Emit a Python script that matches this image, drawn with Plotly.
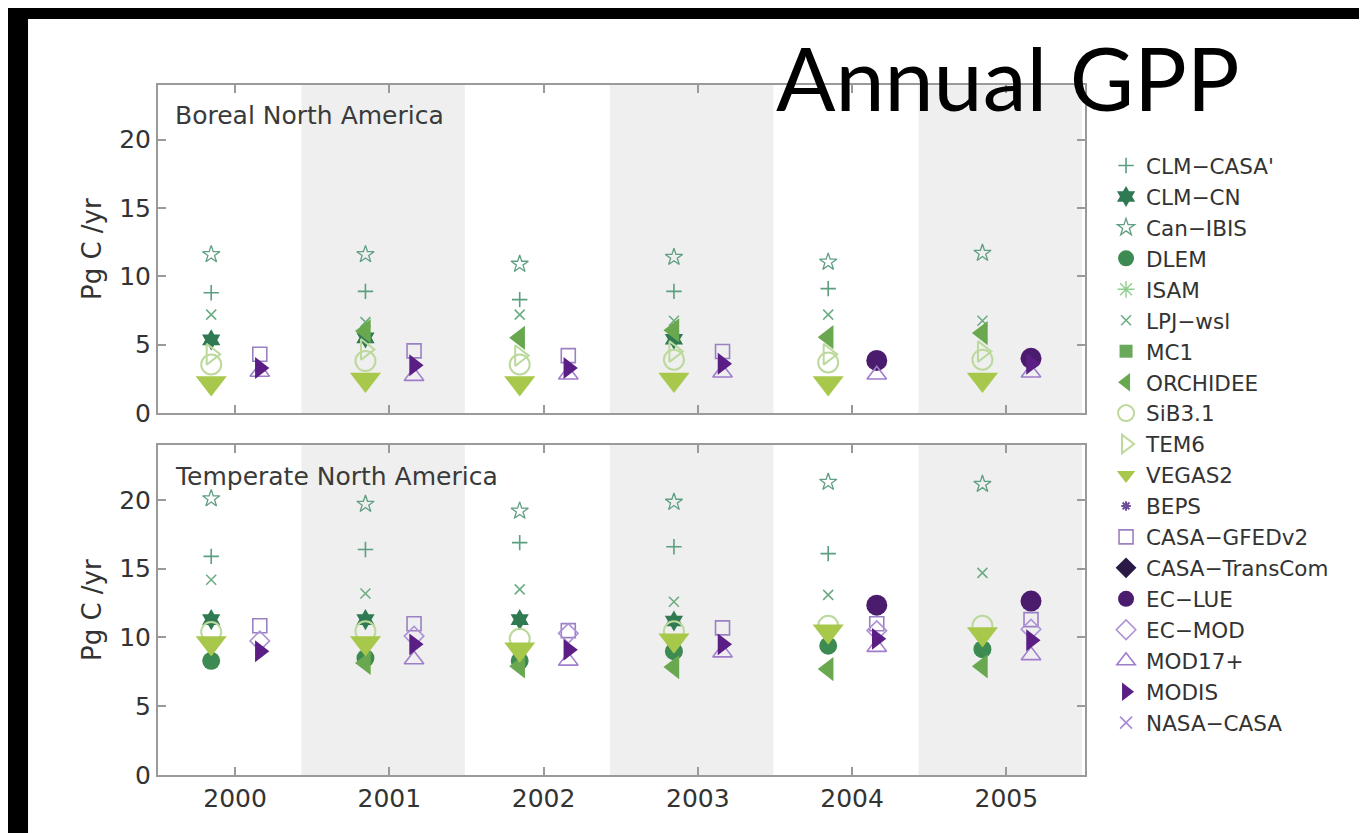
import plotly.graph_objects as go
from plotly.subplots import make_subplots

years = [2000, 2001, 2002, 2003, 2004, 2005]

# ---- Boreal North America (Pg C / yr) ----
bor_clm_casa = [8.8, 8.9, 8.3, 8.9, 9.1, None]
bor_clm_cn = [5.35, 5.5, None, 5.4, None, None]
bor_can_ibis = [11.6, 11.6, 10.9, 11.4, 11.05, 11.7]
bor_dlem = [None] * 6
bor_isam = [None] * 6
bor_lpj = [7.2, 6.65, 7.2, 6.75, 7.2, 6.75]
bor_mc1 = [None] * 6
bor_orchidee = [None, 6.0, 5.5, 6.05, 5.55, 5.85]
bor_sib = [3.55, 3.8, 3.55, 3.9, 3.7, 3.9]
bor_tem6 = [4.3, 4.65, 4.2, 4.5, 4.3, 4.5]
bor_vegas = [2.2, 2.45, 2.2, 2.45, 2.2, 2.45]
bor_beps = [None] * 6
bor_casa_gfed = [4.3, 4.55, 4.2, 4.5, None, None]
bor_casa_tc = [None] * 6
bor_ec_lue = [None, None, None, None, 3.85, 4.0]
bor_ec_mod = [None] * 6
bor_mod17 = [3.0, 2.7, 2.8, 2.95, 2.8, 2.95]
bor_modis = [3.3, 3.5, 3.3, 3.6, None, 3.6]
bor_nasa_casa = [None] * 6

# ---- Temperate North America (Pg C / yr) ----
tem_clm_casa = [15.9, 16.4, 16.9, 16.6, 16.1, None]
tem_clm_cn = [11.3, 11.3, 11.3, 11.2, None, None]
tem_can_ibis = [20.1, 19.7, 19.2, 19.85, 21.3, 21.15]
tem_dlem = [8.3, 8.5, 8.3, 9.0, 9.4, 9.15]
tem_isam = [None] * 6
tem_lpj = [14.2, 13.2, 13.5, 12.6, 13.1, 14.7]
tem_mc1 = [None] * 6
tem_orchidee = [None, 8.15, 7.9, 7.85, 7.7, 7.9]
tem_sib = [10.4, 10.45, 9.9, 10.45, 10.85, 10.85]
tem_tem6 = [None] * 6
tem_vegas = [9.6, 9.6, 9.15, 9.8, 10.45, 10.25]
tem_beps = [None] * 6
tem_casa_gfed = [10.85, 11.0, 10.5, 10.7, 11.0, 11.3]
tem_casa_tc = [None] * 6
tem_ec_lue = [None, None, None, None, 12.35, 12.65]
tem_ec_mod = [9.75, 10.1, 10.3, None, 10.5, 10.6]
tem_mod17 = [None, 8.4, 8.3, 8.9, 9.3, 8.7]
tem_modis = [9.0, 9.5, 9.1, 9.5, 9.9, 9.8]
tem_nasa_casa = [None] * 6

# name, group, boreal values, temperate values, symbol, colour, size, open line width
series = [
    ("CLM\u2212CASA'", "m", bor_clm_casa, tem_clm_casa, "cross-thin-open", "#5c9e80", 11, 1.6),
    ("CLM\u2212CN", "m", bor_clm_cn, tem_clm_cn, "hexagram", "#2f7a52", 16, 0),
    ("Can\u2212IBIS", "m", bor_can_ibis, tem_can_ibis, "star-open", "#5f9f82", 13, 1.3),
    ("DLEM", "m", bor_dlem, tem_dlem, "circle", "#3d8b52", 18, 0),
    ("ISAM", "m", bor_isam, tem_isam, "asterisk-open", "#8fcf8c", 14, 1.4),
    ("LPJ\u2212wsl", "m", bor_lpj, tem_lpj, "x-thin-open", "#6aab80", 10, 1.5),
    ("MC1", "m", bor_mc1, tem_mc1, "square", "#6aa85c", 13, 0),
    ("ORCHIDEE", "m", bor_orchidee, tem_orchidee, "triangle-left", "#6aa84f", 21, 0),
    ("SiB3.1", "m", bor_sib, tem_sib, "circle-open", "#bcd99c", 20, 2),
    ("TEM6", "m", bor_tem6, tem_tem6, "triangle-right-open", "#bcd99c", 18, 2),
    ("VEGAS2", "m", bor_vegas, tem_vegas, "triangle-down", "#a8c84c", 27, 0),
    ("BEPS", "o", bor_beps, tem_beps, "asterisk-open", "#6c4e9e", 8, 2),
    ("CASA\u2212GFEDv2", "o", bor_casa_gfed, tem_casa_gfed, "square-open", "#9c80c4", 14, 1.6),
    ("CASA\u2212TransCom", "o", bor_casa_tc, tem_casa_tc, "diamond", "#2a1845", 16, 0),
    ("EC\u2212LUE", "o", bor_ec_lue, tem_ec_lue, "circle", "#4b1c6e", 21, 0),
    ("EC\u2212MOD", "o", bor_ec_mod, tem_ec_mod, "diamond-open", "#ad92d6", 15, 1.6),
    ("MOD17+", "o", bor_mod17, tem_mod17, "triangle-up-open", "#a07ccc", 17, 1.6),
    ("MODIS", "o", bor_modis, tem_modis, "triangle-right", "#5a1e84", 19, 0),
    ("NASA\u2212CASA", "o", bor_nasa_casa, tem_nasa_casa, "x-thin-open", "#a48ad4", 12, 1.6),
]

shaded_years = [2001, 2003, 2005]
OFFSET = {"m": -0.155, "o": 0.16}
BAND_L, BAND_R = -0.57, 0.49

fig = make_subplots(rows=2, cols=1, shared_xaxes=False, vertical_spacing=0.0)

for name, grp, bvals, tvals, sym, col, size, lw in series:
    xs = [y + OFFSET[grp] for y in years]
    is_open = sym.endswith("-open")
    marker = dict(symbol=sym, size=size, color=col,
                  line=dict(color=col, width=lw if is_open else 0))
    fig.add_trace(go.Scatter(x=xs, y=bvals, mode="markers", name=name, marker=marker,
                             showlegend=True, cliponaxis=True), row=1, col=1)
    fig.add_trace(go.Scatter(x=xs, y=tvals, mode="markers", name=name, marker=marker,
                             showlegend=False, cliponaxis=True), row=2, col=1)

# shaded bands
for ax in ["x", "x2"]:
    yref = "y domain" if ax == "x" else "y2 domain"
    for yr in shaded_years:
        fig.add_shape(type="rect", xref=ax, yref=yref, x0=yr + BAND_L, x1=yr + BAND_R,
                      y0=0, y1=1, fillcolor="#efefef", line_width=0, layer="below")

# black frame strips of the slide
fig.add_shape(type="rect", xref="paper", yref="paper", x0=-0.4, x1=1.6, y0=1.0957, y1=1.3,
              fillcolor="black", line_width=0, layer="below")
fig.add_shape(type="rect", xref="paper", yref="paper", x0=-0.4, x1=-0.1402, y0=-0.3, y1=1.3,
              fillcolor="black", line_width=0, layer="below")

axis_common = dict(showline=True, linecolor="#9a9a9a", linewidth=2, mirror="ticks",
                   ticks="inside", ticklen=8, tickcolor="#9a9a9a", tickwidth=1.5,
                   showgrid=False, zeroline=False,
                   tickfont=dict(family="DejaVu Sans", size=25, color="#333333"))
xr = [1999.5, 2005.51]
fig.update_xaxes(range=xr, tickvals=years, **axis_common)
fig.update_xaxes(showticklabels=False, row=1, col=1)
fig.update_yaxes(range=[0, 24], tickvals=[0, 5, 10, 15, 20], **axis_common)

fig.update_layout(
    xaxis=dict(domain=[0, 1]), xaxis2=dict(domain=[0, 1]),
    yaxis=dict(domain=[0.5246, 1.0]), yaxis2=dict(domain=[0.0, 0.4783]),
)

annotations = [
    dict(text="Annual GPP", x=0.917, y=1.0116, xref="paper", yref="paper",
         xanchor="center", yanchor="middle", showarrow=False,
         font=dict(family="Lato", size=88, color="black")),
    dict(text="Boreal North America", x=0.0162, y=0.9565, xref="paper", yref="paper",
         xanchor="left", yanchor="middle", showarrow=False,
         font=dict(family="DejaVu Sans", size=25, color="#3a3a3a")),
    dict(text="Temperate North America", x=0.0162, y=0.4333, xref="paper", yref="paper",
         xanchor="left", yanchor="middle", showarrow=False,
         font=dict(family="DejaVu Sans", size=25, color="#3a3a3a")),
    dict(text="Pg C /yr", x=-0.0712, y=0.7623, xref="paper", yref="paper", textangle=-90,
         xanchor="center", yanchor="middle", showarrow=False,
         font=dict(family="DejaVu Sans", size=26, color="#333333")),
    dict(text="Pg C /yr", x=-0.0712, y=0.2391, xref="paper", yref="paper", textangle=-90,
         xanchor="center", yanchor="middle", showarrow=False,
         font=dict(family="DejaVu Sans", size=26, color="#333333")),
]

fig.update_layout(
    width=1367, height=833,
    margin=dict(l=150, r=290, t=77, b=66),
    paper_bgcolor="white", plot_bgcolor="white",
    annotations=annotations,
    legend=dict(x=1.0227, y=0.9130, xanchor="left", yanchor="top",
                font=dict(family="DejaVu Sans", size=21.5, color="#333333"),
                bgcolor="rgba(0,0,0,0)", itemwidth=30, tracegroupgap=0),
    showlegend=True,
)

fig.write_html("out.html")
